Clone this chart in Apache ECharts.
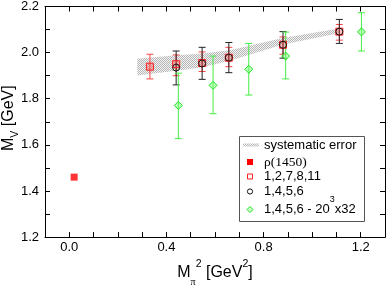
<!DOCTYPE html>
<html><head><meta charset="utf-8">
<script src="https://cdn.jsdelivr.net/npm/echarts@6/dist/echarts.min.js"></script>
<style>html,body{margin:0;padding:0;background:#fff}#c{width:388px;height:292px}</style>
</head><body><div id="c"></div>
<script>
// ---- data ----
const xTickLabels = ['0.0', '0.4', '0.8', '1.2'];
const yTickLabels = ['1.2', '1.4', '1.6', '1.8', '2.0', '2.2'];

const bandX    = [0.28, 0.44, 0.55, 0.66, 0.88, 1.11];
const bandLow  = [1.901, 1.921, 1.937, 1.965, 2.035, 2.084];
const bandHigh = [1.973, 1.989, 1.996, 2.010, 2.063, 2.105];

const rhoX = [0.02];
const rhoY = [1.46];

const redX  = [0.332, 0.44, 0.547, 0.657, 0.88, 1.112];
const redY  = [1.939, 1.950, 1.955, 1.978, 2.034, 2.091];
const redLo = [1.886, 1.900, 1.918, 1.939, 1.993, 2.054];
const redHi = [1.993, 1.990, 2.003, 2.023, 2.068, 2.122];

const blkX  = [0.44, 0.547, 0.657, 0.88, 1.112];
const blkY  = [1.935, 1.953, 1.978, 2.034, 2.091];
const blkLo = [1.860, 1.884, 1.913, 1.976, 2.040];
const blkHi = [2.007, 2.023, 2.044, 2.091, 2.144];

const grnX  = [0.449, 0.592, 0.739, 0.891, 1.203];
const grnY  = [1.771, 1.858, 1.928, 1.985, 2.090];
const grnLo = [1.627, 1.735, 1.816, 1.886, 2.007];
const grnHi = [1.911, 1.985, 2.040, 2.089, 2.173];

const legendLabels = ['systematic error', 'ρ(1450)', '1,2,7,8,11', '1,4,5,6', '1,4,5,6 - 20{sup|3}x32'];

// ---- pattern ----
const pc = document.createElement('canvas');
pc.width = 2; pc.height = 2;
const pctx = pc.getContext('2d');
pctx.fillStyle = '#f4f4f4'; pctx.fillRect(0, 0, 2, 2);
pctx.fillStyle = '#b6b6b6'; pctx.fillRect(0, 0, 1, 1); pctx.fillRect(1, 1, 1, 1);
const bandFill = { image: pc, repeat: 'repeat' };

const FONT = '"Liberation Sans", Arial, sans-serif';
const SERIF = '"Liberation Serif", "DejaVu Serif", serif';

const RED = '#ff2020', RED_ERR = '#ff4444', BLK = '#111', GRN = '#22e022', GRN_ERR = '#44ee44';

function errSeries(id, xs, lo, hi, color) {
  return {
    type: 'custom', id: id, name: id, silent: true, z: 3,
    data: xs.map((x, i) => [x, lo[i], hi[i]]),
    encode: { x: 0, y: [1, 2] },
    renderItem: function (params, api) {
      const x = api.value(0);
      const p1 = api.coord([x, api.value(2)]);
      const p2 = api.coord([x, api.value(1)]);
      const w = 3.5;
      const st = { stroke: color, lineWidth: 1 };
      return { type: 'group', children: [
        { type: 'line', shape: { x1: p1[0], y1: p1[1], x2: p2[0], y2: p2[1] }, style: st },
        { type: 'line', shape: { x1: p1[0] - w, y1: p1[1], x2: p1[0] + w, y2: p1[1] }, style: st },
        { type: 'line', shape: { x1: p2[0] - w, y1: p2[1], x2: p2[0] + w, y2: p2[1] }, style: st }
      ]};
    }
  };
}

const chart = echarts.init(document.getElementById('c'), null, { renderer: 'canvas' });

const axisCommon = {
  type: 'value',
  axisLine: { show: true, onZero: false, lineStyle: { color: '#000', width: 1 } },
  axisTick: { show: true, inside: true, length: 5, lineStyle: { color: '#000' } },
  splitLine: { show: false }
};

// legend built from graphic elements (box, swatches, texts)
const LX = 239, LY = 136;
const rowY = [9, 26, 40.5, 55.5, 73.5];
const textStyleBase = { fontSize: 13, fontFamily: FONT, fill: '#000' };
const legendGroup = {
  type: 'group', left: LX, top: LY, z: 100,
  children: [
    { type: 'rect', shape: { x: 0.5, y: 0.5, width: 125, height: 85 },
      style: { fill: '#fff', stroke: '#555', lineWidth: 1 } },
    { type: 'rect', shape: { x: 4, y: rowY[0] - 1.5, width: 16, height: 3 }, style: { fill: bandFill } },
    { type: 'rect', shape: { x: 8, y: rowY[1] - 3, width: 6, height: 6 }, style: { fill: '#ff0000' } },
    { type: 'rect', shape: { x: 8.5, y: rowY[2] - 2.5, width: 5, height: 5 }, style: { fill: 'none', stroke: RED, lineWidth: 1 } },
    { type: 'circle', shape: { cx: 11, cy: rowY[3], r: 2.6 }, style: { fill: 'none', stroke: BLK, lineWidth: 1 } },
    { type: 'polygon', shape: { points: [[11, rowY[4] - 3], [14, rowY[4]], [11, rowY[4] + 3], [8, rowY[4]]] },
      style: { fill: 'rgba(150,255,150,0.5)', stroke: GRN, lineWidth: 1 } },
    { type: 'text', x: 25, y: rowY[0], style: Object.assign({ text: legendLabels[0], verticalAlign: 'middle' }, textStyleBase) },
    { type: 'text', x: 25, y: rowY[1], style: { text: legendLabels[1], verticalAlign: 'middle', fontSize: 13.5, fontFamily: SERIF, fill: '#000' } },
    { type: 'text', x: 25, y: rowY[2], style: Object.assign({ text: legendLabels[2], verticalAlign: 'middle' }, textStyleBase) },
    { type: 'text', x: 25, y: rowY[3], style: Object.assign({ text: legendLabels[3], verticalAlign: 'middle' }, textStyleBase) },
    { type: 'text', x: 25, y: rowY[4], style: {
        text: '{b|' + legendLabels[4].replace('{sup|3}', '}{sup|3}{b|') + '}',
        verticalAlign: 'middle', align: 'left',
        rich: {
          b: { fontSize: 13, fontFamily: FONT, fill: '#000', lineHeight: 28 },
          sup: { fontSize: 9, fontFamily: FONT, fill: '#000', lineHeight: 10, verticalAlign: 'top' }
        } } }
  ]
};

chart.setOption({
  animation: false,
  backgroundColor: '#fff',
  grid: { left: 45, right: 1, top: 5, bottom: 42, containLabel: false },
  xAxis: [
    Object.assign({}, axisCommon, {
      min: -0.1, max: 1.3, interval: 0.1, position: 'bottom',
      name: '{m|M}{sub|π}{sup|2}{m| [GeV}{sup|2}{m|]}',
      nameLocation: 'middle', nameGap: 14,
      nameTextStyle: {
        verticalAlign: 'top',
        rich: {
          m: { fontSize: 16, fontFamily: FONT, color: '#000', lineHeight: 28 },
          sub: { fontSize: 10, fontFamily: SERIF, color: '#000', lineHeight: 9, verticalAlign: 'bottom' },
          sup: { fontSize: 10.5, fontFamily: FONT, color: '#000', lineHeight: 12, verticalAlign: 'top' }
        }
      },
      axisLabel: { fontSize: 13, fontFamily: FONT, color: '#000', margin: 4,
        formatter: v => xTickLabels.includes(v.toFixed(1)) ? v.toFixed(1) : '' }
    }),
    Object.assign({}, axisCommon, {
      min: -0.1, max: 1.3, interval: 0.1, position: 'top', axisLabel: { show: false }
    })
  ],
  yAxis: [
    Object.assign({}, axisCommon, {
      min: 1.2, max: 2.2, interval: 0.1, position: 'left',
      axisLabel: { fontSize: 13, fontFamily: FONT, color: '#000', margin: 6,
        formatter: v => yTickLabels.includes(v.toFixed(1)) ? v.toFixed(1) : '' }
    }),
    Object.assign({}, axisCommon, {
      min: 1.2, max: 2.2, interval: 0.1, position: 'right', axisLabel: { show: false }
    })
  ],
  graphic: [
    {
      type: 'text', x: 9, y: 151, rotation: Math.PI / 2,
      style: {
        text: '{m|M}{sub|V}{m| [GeV]}',
        align: 'left', verticalAlign: 'middle',
        rich: {
          m: { fontSize: 16, fontFamily: FONT, fill: '#000', lineHeight: 24 },
          sub: { fontSize: 10.5, fontFamily: FONT, fill: '#000', lineHeight: 12, verticalAlign: 'bottom' }
        }
      }
    },
    legendGroup
  ],
  series: [
    {
      type: 'custom', name: 'systematic error', silent: true, z: 1,
      data: bandX.map((x, i) => [x, bandLow[i], bandHigh[i]]),
      encode: { x: 0, y: [1, 2] },
      renderItem: function (params, api) {
        if (params.dataIndex !== 0) return null;
        const pts = [];
        for (let i = 0; i < bandX.length; i++) pts.push(api.coord([bandX[i], bandLow[i]]));
        for (let i = bandX.length - 1; i >= 0; i--) pts.push(api.coord([bandX[i], bandHigh[i]]));
        return { type: 'polygon', shape: { points: pts }, style: { fill: bandFill, stroke: null } };
      }
    },
    errSeries('err-red', redX, redLo, redHi, RED_ERR),
    errSeries('err-blk', blkX, blkLo, blkHi, '#222'),
    errSeries('err-grn', grnX, grnLo, grnHi, GRN_ERR),
    {
      type: 'scatter', name: 'ρ(1450)', symbol: 'rect', symbolSize: 7, z: 5,
      data: rhoX.map((x, i) => [x, rhoY[i]]),
      itemStyle: { color: '#ff0000', borderWidth: 0 }
    },
    {
      type: 'scatter', name: '1,2,7,8,11', symbol: 'rect', symbolSize: 7, z: 5,
      data: redX.map((x, i) => [x, redY[i]]),
      itemStyle: { color: 'rgba(255,90,90,0.35)', borderColor: RED, borderWidth: 1, opacity: 1 }
    },
    {
      type: 'scatter', name: '1,4,5,6', symbol: 'circle', symbolSize: 7, z: 6,
      data: blkX.map((x, i) => [x, blkY[i]]),
      itemStyle: { color: 'rgba(0,0,0,0)', borderColor: BLK, borderWidth: 1, opacity: 1 }
    },
    {
      type: 'scatter', name: '1,4,5,6 - 20^3x32', symbol: 'diamond', symbolSize: 8, z: 6,
      data: grnX.map((x, i) => [x, grnY[i]]),
      itemStyle: { color: 'rgba(120,255,120,0.5)', borderColor: GRN, borderWidth: 1, opacity: 1 }
    }
  ]
});
</script></body></html>
